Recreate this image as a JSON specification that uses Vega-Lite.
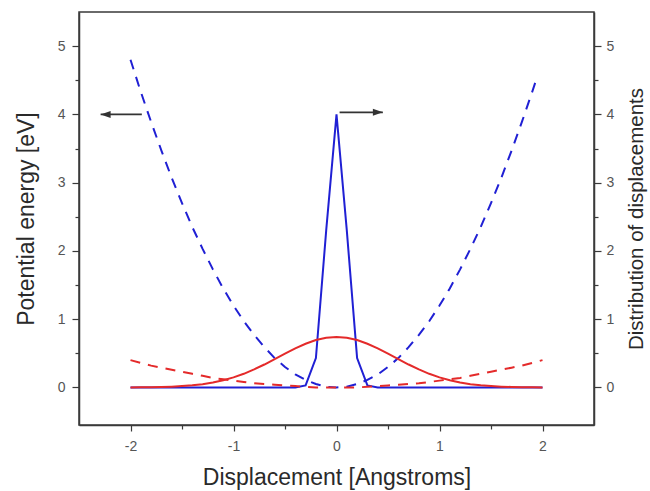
{
  "$schema": "https://vega.github.io/schema/vega-lite/v6.json",
  "width": 515,
  "height": 413,
  "autosize": {"type": "none"},
  "padding": {"left": 79, "top": 12, "right": 56, "bottom": 66},
  "background": "white",
  "config": {
    "font": "Liberation Sans",
    "view": {"stroke": "#3a3a3a", "strokeWidth": 1.5},
    "axis": {
      "grid": false,
      "domainColor": "#3a3a3a",
      "domainWidth": 1.5,
      "tickColor": "#3a3a3a",
      "tickWidth": 1.2,
      "labelFont": "Liberation Sans",
      "labelFontSize": 14,
      "labelColor": "#555555",
      "titleFont": "Liberation Sans",
      "titleFontSize": 23,
      "titleFontWeight": "normal",
      "titleColor": "#2a2a2a"
    }
  },
  "datasets": {
    "curves": [
      {"x": -2.0, "p1": 4.80, "p2": 0.40, "d1": 0, "d2": 0.001},
      {"x": -1.9, "p1": 4.33, "p2": 0.36, "d1": 0, "d2": 0.002},
      {"x": -1.8, "p1": 3.89, "p2": 0.32, "d1": 0, "d2": 0.004},
      {"x": -1.7, "p1": 3.47, "p2": 0.29, "d1": 0, "d2": 0.007},
      {"x": -1.6, "p1": 3.07, "p2": 0.26, "d1": 0, "d2": 0.012},
      {"x": -1.5, "p1": 2.70, "p2": 0.23, "d1": 0, "d2": 0.020},
      {"x": -1.4, "p1": 2.35, "p2": 0.20, "d1": 0, "d2": 0.031},
      {"x": -1.3, "p1": 2.03, "p2": 0.17, "d1": 0, "d2": 0.048},
      {"x": -1.2, "p1": 1.73, "p2": 0.14, "d1": 0, "d2": 0.073},
      {"x": -1.1, "p1": 1.45, "p2": 0.12, "d1": 0, "d2": 0.105},
      {"x": -1.0, "p1": 1.20, "p2": 0.10, "d1": 0, "d2": 0.147},
      {"x": -0.9, "p1": 0.97, "p2": 0.08, "d1": 0, "d2": 0.200},
      {"x": -0.8, "p1": 0.77, "p2": 0.06, "d1": 0, "d2": 0.264},
      {"x": -0.7, "p1": 0.59, "p2": 0.05, "d1": 0, "d2": 0.336},
      {"x": -0.6, "p1": 0.43, "p2": 0.04, "d1": 0, "d2": 0.414},
      {"x": -0.5, "p1": 0.30, "p2": 0.03, "d1": 0, "d2": 0.494},
      {"x": -0.4, "p1": 0.19, "p2": 0.02, "d1": 0, "d2": 0.572},
      {"x": -0.3, "p1": 0.11, "p2": 0.01, "d1": 0.03, "d2": 0.640},
      {"x": -0.2, "p1": 0.05, "p2": 0.00, "d1": 0.43, "d2": 0.694},
      {"x": -0.1, "p1": 0.01, "p2": 0.00, "d1": 2.30, "d2": 0.728},
      {"x": 0.0, "p1": 0.00, "p2": 0.00, "d1": 4.00, "d2": 0.740},
      {"x": 0.1, "p1": 0.01, "p2": 0.00, "d1": 2.30, "d2": 0.728},
      {"x": 0.2, "p1": 0.05, "p2": 0.00, "d1": 0.43, "d2": 0.694},
      {"x": 0.3, "p1": 0.11, "p2": 0.01, "d1": 0.03, "d2": 0.640},
      {"x": 0.4, "p1": 0.19, "p2": 0.02, "d1": 0, "d2": 0.572},
      {"x": 0.5, "p1": 0.30, "p2": 0.03, "d1": 0, "d2": 0.494},
      {"x": 0.6, "p1": 0.43, "p2": 0.04, "d1": 0, "d2": 0.414},
      {"x": 0.7, "p1": 0.59, "p2": 0.05, "d1": 0, "d2": 0.336},
      {"x": 0.8, "p1": 0.77, "p2": 0.06, "d1": 0, "d2": 0.264},
      {"x": 0.9, "p1": 0.97, "p2": 0.08, "d1": 0, "d2": 0.200},
      {"x": 1.0, "p1": 1.20, "p2": 0.10, "d1": 0, "d2": 0.147},
      {"x": 1.1, "p1": 1.45, "p2": 0.12, "d1": 0, "d2": 0.105},
      {"x": 1.2, "p1": 1.73, "p2": 0.14, "d1": 0, "d2": 0.073},
      {"x": 1.3, "p1": 2.03, "p2": 0.17, "d1": 0, "d2": 0.048},
      {"x": 1.4, "p1": 2.35, "p2": 0.20, "d1": 0, "d2": 0.031},
      {"x": 1.5, "p1": 2.70, "p2": 0.23, "d1": 0, "d2": 0.020},
      {"x": 1.6, "p1": 3.07, "p2": 0.26, "d1": 0, "d2": 0.012},
      {"x": 1.7, "p1": 3.47, "p2": 0.29, "d1": 0, "d2": 0.007},
      {"x": 1.8, "p1": 3.89, "p2": 0.32, "d1": 0, "d2": 0.004},
      {"x": 1.9, "p1": 4.33, "p2": 0.36, "d1": 0, "d2": 0.002},
      {"x": 1.95, "p1": 4.56},
      {"x": 2.0, "p2": 0.40, "d1": 0, "d2": 0.001}
    ],
    "arrows": [
      {"x": -1.89, "x2": -2.29, "y": 4.0, "dir": "left"},
      {"x": 0.03, "x2": 0.45, "y": 4.03, "dir": "right"}
    ]
  },
  "encoding": {
    "x": {
      "field": "x",
      "type": "quantitative",
      "scale": {"domain": [-2.5, 2.5], "nice": false, "zero": false},
      "axis": {
        "values": [-2, -1.5, -1, -0.5, 0, 0.5, 1, 1.5, 2],
        "labelExpr": "datum.value % 1 === 0 ? toString(datum.value) : ''",
        "tickSize": {"condition": {"test": "datum.value % 1 !== 0", "value": 4}, "value": 6},
        "labelPadding": 8,
        "labelFlush": false,
        "title": "Displacement [Angstroms]",
        "titlePadding": 13
      }
    }
  },
  "layer": [
    {
      "data": {"name": "curves"},
      "transform": [{"filter": "isValid(datum.p1)"}],
      "mark": {"type": "line", "color": "#2020d4", "strokeWidth": 2, "strokeDash": [10, 8]},
      "encoding": {
        "y": {
          "field": "p1",
          "type": "quantitative",
          "scale": {"domain": [-0.55, 5.5], "nice": false, "zero": false},
          "axis": {
            "orient": "left",
            "values": [0, 0.5, 1, 1.5, 2, 2.5, 3, 3.5, 4, 4.5, 5],
            "labelExpr": "datum.value % 1 === 0 ? toString(datum.value) : ''",
            "tickSize": {"condition": {"test": "datum.value % 1 !== 0", "value": 4}, "value": 7},
            "labelPadding": 7,
            "labelFlush": false,
            "title": "Potential energy [eV]",
            "titlePadding": 19
          }
        }
      }
    },
    {
      "data": {"name": "curves"},
      "transform": [{"filter": "isValid(datum.d1)"}],
      "mark": {"type": "line", "color": "#2020d4", "strokeWidth": 2},
      "encoding": {
        "y": {
          "field": "d1",
          "type": "quantitative",
          "scale": {"domain": [-0.55, 5.5], "nice": false, "zero": false},
          "axis": {
            "orient": "right",
            "values": [0, 0.5, 1, 1.5, 2, 2.5, 3, 3.5, 4, 4.5, 5],
            "labelExpr": "datum.value % 1 === 0 ? toString(datum.value) : ''",
            "tickSize": {"condition": {"test": "datum.value % 1 !== 0", "value": 4}, "value": 7},
            "labelPadding": 5,
            "labelFlush": false,
            "title": "Distribution of displacements",
            "titleFontSize": 20.5,
            "titleAngle": 270,
            "titleBaseline": "top",
            "titlePadding": 13
          }
        }
      }
    },
    {
      "data": {"name": "curves"},
      "transform": [{"filter": "isValid(datum.p2)"}],
      "mark": {"type": "line", "color": "#e42a2a", "strokeWidth": 2, "strokeDash": [10, 8]},
      "encoding": {
        "y": {
          "field": "p2",
          "type": "quantitative",
          "scale": {"domain": [-0.55, 5.5], "nice": false, "zero": false},
          "axis": null
        }
      }
    },
    {
      "data": {"name": "curves"},
      "transform": [{"filter": "isValid(datum.d2)"}],
      "mark": {"type": "line", "color": "#e42a2a", "strokeWidth": 2},
      "encoding": {
        "y": {
          "field": "d2",
          "type": "quantitative",
          "scale": {"domain": [-0.55, 5.5], "nice": false, "zero": false},
          "axis": null
        }
      }
    },
    {
      "data": {"name": "arrows"},
      "mark": {"type": "rule", "color": "#333333", "strokeWidth": 1.6},
      "encoding": {
        "x2": {"field": "x2"},
        "y": {
          "field": "y",
          "type": "quantitative",
          "scale": {"domain": [-0.55, 5.5], "nice": false, "zero": false},
          "axis": null
        }
      }
    },
    {
      "data": {"name": "arrows"},
      "mark": {"type": "point", "filled": true, "color": "#333333", "opacity": 1, "size": 100},
      "encoding": {
        "x": {"field": "x2", "type": "quantitative"},
        "y": {
          "field": "y",
          "type": "quantitative",
          "scale": {"domain": [-0.55, 5.5], "nice": false, "zero": false},
          "axis": null
        },
        "shape": {
          "field": "dir",
          "type": "nominal",
          "scale": {"domain": ["left", "right"], "range": ["M0,0L2,-0.7L2,0.7Z", "M0,0L-2,-0.7L-2,0.7Z"]},
          "legend": null
        }
      }
    }
  ],
  "resolve": {"scale": {"y": "independent"}}
}
